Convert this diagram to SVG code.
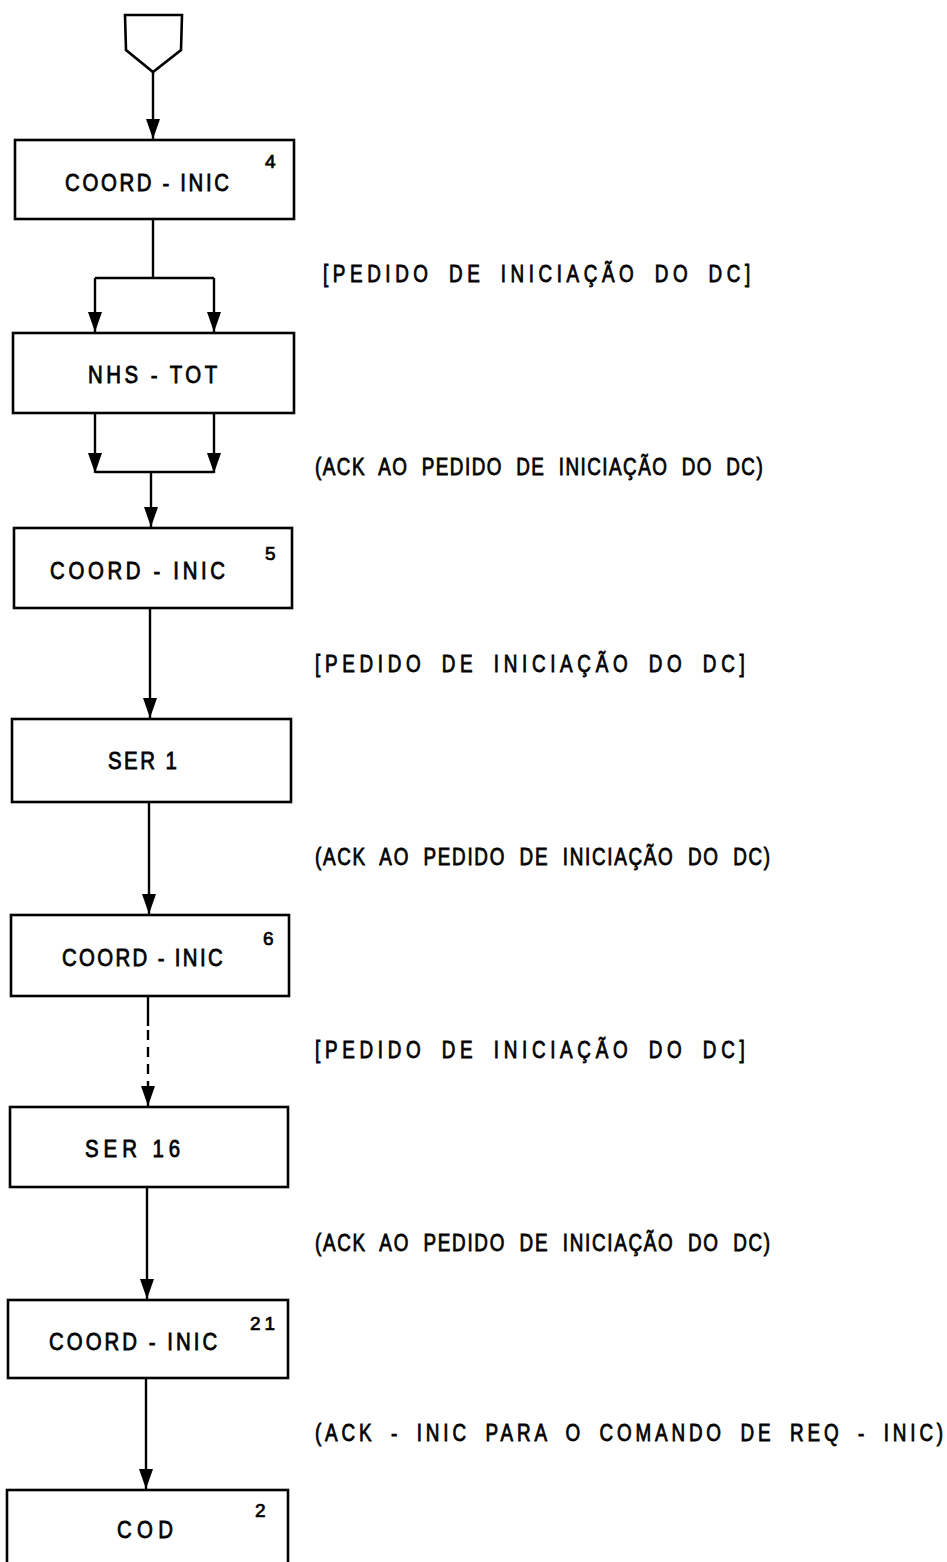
<svg xmlns="http://www.w3.org/2000/svg" width="947" height="1562" viewBox="0 0 947 1562">
  <style>
    .box { fill: #fff; stroke: #000; stroke-width: 2.6; }
    .ln { fill: none; stroke: #000; stroke-width: 2.4; }
    .dash { fill: none; stroke: #000; stroke-width: 2.4; stroke-dasharray: 10 7; }
    .t { font-family: "Liberation Sans", Arial, sans-serif; font-size: 24px; fill: #000; stroke: #000; stroke-width: 0.8; }
    .n { font-family: "Liberation Sans", Arial, sans-serif; font-size: 19px; fill: #000; stroke: #000; stroke-width: 0.7; }
    .lbl { font-family: "Liberation Sans", Arial, sans-serif; font-size: 23px; fill: #000; stroke: #000; stroke-width: 0.8; word-spacing: 8px; }
  </style>
  <defs>
    <!-- filled arrowhead, 20 long by 14 wide, tip on the line end -->
    <marker id="ah" viewBox="0 0 20 14" refX="20" refY="7" markerWidth="20" markerHeight="14" markerUnits="userSpaceOnUse" orient="auto">
      <path d="M0,0 L20,7 L0,14 Z" fill="#000"/>
    </marker>
  </defs>
  <rect width="947" height="1562" fill="#fff"/>

  <!-- connectors -->
  <g id="connectors">
    <line class="ln" x1="153" y1="72" x2="153" y2="139" marker-end="url(#ah)"/>
    <polyline class="ln" points="153,219 153,278"/>
    <polyline class="ln" points="95,278 214,278"/>
    <line class="ln" x1="95" y1="278" x2="95" y2="332" marker-end="url(#ah)"/>
    <line class="ln" x1="214" y1="278" x2="214" y2="332" marker-end="url(#ah)"/>
    <line class="ln" x1="95" y1="413" x2="95" y2="473" marker-end="url(#ah)"/>
    <line class="ln" x1="214" y1="413" x2="214" y2="473" marker-end="url(#ah)"/>
    <polyline class="ln" points="95,472 214,472"/>
    <line class="ln" x1="151" y1="472" x2="151" y2="527" marker-end="url(#ah)"/>
    <line class="ln" x1="150" y1="608" x2="150" y2="718" marker-end="url(#ah)"/>
    <line class="ln" x1="149" y1="802" x2="149" y2="914" marker-end="url(#ah)"/>
    <line class="ln" x1="148" y1="996" x2="148" y2="1026"/>
    <line class="dash" x1="148" y1="1030" x2="148" y2="1106" marker-end="url(#ah)"/>
    <line class="ln" x1="147" y1="1187" x2="147" y2="1299" marker-end="url(#ah)"/>
    <line class="ln" x1="146" y1="1378" x2="146" y2="1489" marker-end="url(#ah)"/>
  </g>

  <!-- entry connector symbol -->
  <g id="start">
    <polygon class="box" points="125,15 182,15 181,50 153,72 126,50"/>
  </g>

  <!-- box captions are set in a narrowed face (scaleX 0.85) -->
  <g id="coord-inic-4">
    <rect class="box" x="15" y="140" width="279" height="79"/>
    <text class="t" transform="translate(65,191) scale(0.85,1)" textLength="193" lengthAdjust="spacing">COORD - INIC</text>
    <text class="n" x="265" y="168">4</text>
  </g>

  <g id="nhs-tot">
    <rect class="box" x="13" y="333" width="281" height="80"/>
    <text class="t" transform="translate(88,383) scale(0.85,1)" textLength="152" lengthAdjust="spacing">NHS - TOT</text>
  </g>

  <g id="coord-inic-5">
    <rect class="box" x="14" y="528" width="278" height="80"/>
    <text class="t" transform="translate(50,579) scale(0.85,1)" textLength="206" lengthAdjust="spacing">COORD - INIC</text>
    <text class="n" x="265" y="560">5</text>
  </g>

  <g id="ser-1">
    <rect class="box" x="12" y="719" width="279" height="83"/>
    <text class="t" transform="translate(108,769) scale(0.85,1)" textLength="81" lengthAdjust="spacing">SER 1</text>
  </g>

  <g id="coord-inic-6">
    <rect class="box" x="11" y="915" width="278" height="81"/>
    <text class="t" transform="translate(62,966) scale(0.85,1)" textLength="189" lengthAdjust="spacing">COORD - INIC</text>
    <text class="n" x="263" y="945">6</text>
  </g>

  <g id="ser-16">
    <rect class="box" x="10" y="1107" width="278" height="80"/>
    <text class="t" transform="translate(85,1157) scale(0.85,1)" textLength="112" lengthAdjust="spacing">SER 16</text>
  </g>

  <g id="coord-inic-21">
    <rect class="box" x="8" y="1300" width="280" height="78"/>
    <text class="t" transform="translate(49,1350) scale(0.85,1)" textLength="198" lengthAdjust="spacing">COORD - INIC</text>
    <text class="n" x="250" y="1330" textLength="25" lengthAdjust="spacing">21</text>
  </g>

  <g id="cod">
    <rect class="box" x="7" y="1490" width="281" height="90"/>
    <text class="t" transform="translate(117,1538) scale(0.85,1)" textLength="66" lengthAdjust="spacing">COD</text>
    <text class="n" x="255" y="1517">2</text>
  </g>

  <!-- message annotations, narrowed face (scaleX 0.82) -->
  <g id="labels">
    <text class="lbl" transform="translate(323,282) scale(0.82,1)" textLength="521" lengthAdjust="spacing">[PEDIDO DE INICIAÇÃO DO DC]</text>
    <text class="lbl" transform="translate(315,475) scale(0.82,1)" textLength="546" lengthAdjust="spacing">(ACK AO PEDIDO DE INICIAÇÃO DO DC)</text>
    <text class="lbl" transform="translate(315,672) scale(0.82,1)" textLength="524" lengthAdjust="spacing">[PEDIDO DE INICIAÇÃO DO DC]</text>
    <text class="lbl" transform="translate(315,865) scale(0.82,1)" textLength="555" lengthAdjust="spacing">(ACK AO PEDIDO DE INICIAÇÃO DO DC)</text>
    <text class="lbl" transform="translate(315,1058) scale(0.82,1)" textLength="524" lengthAdjust="spacing">[PEDIDO DE INICIAÇÃO DO DC]</text>
    <text class="lbl" transform="translate(315,1251) scale(0.82,1)" textLength="555" lengthAdjust="spacing">(ACK AO PEDIDO DE INICIAÇÃO DO DC)</text>
    <text class="lbl" transform="translate(315,1441) scale(0.82,1)" textLength="766" lengthAdjust="spacing">(ACK - INIC PARA O COMANDO DE REQ - INIC)</text>
  </g>
</svg>
